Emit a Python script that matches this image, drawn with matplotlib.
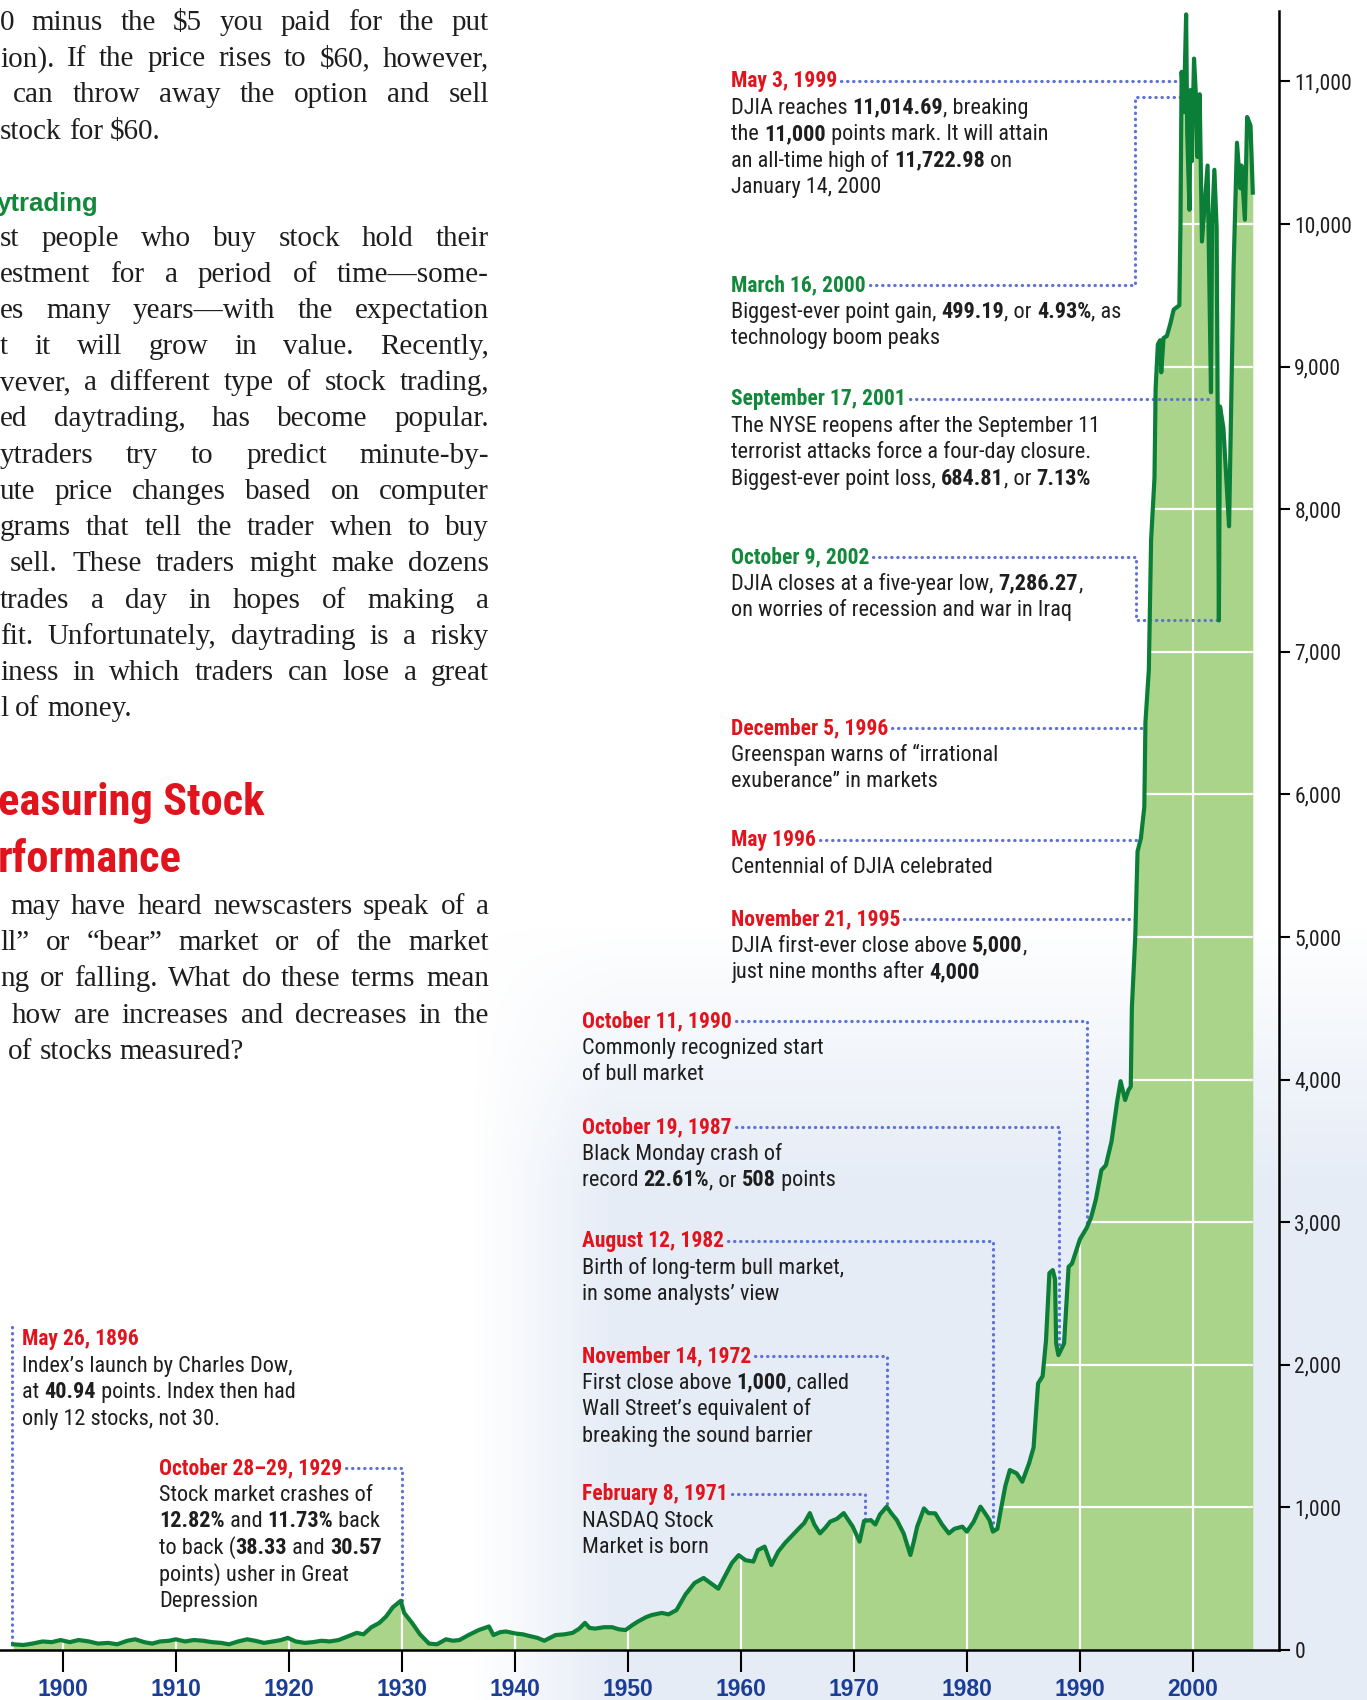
import numpy as np
import matplotlib
matplotlib.use("Agg")
import matplotlib.pyplot as plt
from matplotlib import font_manager
from matplotlib.lines import Line2D
from matplotlib.transforms import Affine2D

# ── Dow Jones Industrial Average as drawn on the page (decimal year, points) ──
years = [
    1895.6, 1896.5, 1897.3, 1898.2, 1899.0, 1899.8, 1900.6, 1901.4, 1902.3, 1903.1,
    1904.0, 1904.8, 1905.7, 1906.4, 1907.2, 1907.9, 1908.6, 1909.4, 1910.0, 1910.8,
    1911.6, 1912.4, 1913.2, 1914.0, 1914.7, 1915.5, 1916.3, 1917.0, 1917.8, 1918.6,
    1919.3, 1919.9, 1920.6, 1921.4, 1922.1, 1922.9, 1923.6, 1924.4, 1925.2, 1926.0,
    1926.6, 1927.3, 1928.0, 1928.6, 1929.2, 1929.9, 1930.2, 1930.9, 1931.6, 1932.4,
    1933.1, 1933.9, 1934.5, 1935.1, 1935.9, 1936.8, 1937.7, 1938.1, 1938.7, 1939.2,
    1940.1, 1940.7, 1941.2, 1942.0, 1942.6, 1943.1, 1943.6, 1944.4, 1945.1, 1945.7,
    1946.2, 1946.6, 1947.1, 1947.9, 1948.6, 1949.2, 1949.8, 1950.4, 1950.9, 1951.6,
    1952.1, 1953.0, 1953.6, 1954.3, 1955.1, 1955.9, 1956.7, 1957.4, 1958.0, 1958.6,
    1959.2, 1959.8, 1960.4, 1961.1, 1961.5, 1962.1, 1962.7, 1963.3, 1963.9, 1964.5,
    1965.1, 1965.6, 1966.1, 1966.5, 1967.0, 1967.5, 1967.9, 1968.5, 1969.1, 1969.6,
    1969.9, 1970.5, 1970.9, 1971.5, 1971.9, 1972.3, 1972.9, 1973.3, 1973.8, 1974.4,
    1975.0, 1975.3, 1975.6, 1976.2, 1976.6, 1977.2, 1977.8, 1978.4, 1978.9, 1979.6,
    1980.0, 1980.6, 1981.2, 1981.6, 1982.0, 1982.3, 1982.7, 1983.0, 1983.4, 1983.8,
    1984.4, 1984.9, 1985.5, 1985.9, 1986.3, 1986.7, 1987.0, 1987.3, 1987.6, 1987.8,
    1987.9, 1988.1, 1988.6, 1989.0, 1989.3, 1990.0, 1990.6, 1991.0, 1991.4, 1991.9,
    1992.3, 1992.8, 1993.3, 1993.6, 1994.0, 1994.3, 1994.5, 1994.6, 1994.9, 1995.1,
    1995.4, 1995.7, 1995.8, 1996.1, 1996.3, 1996.6, 1996.7, 1996.9, 1997.1, 1997.2,
    1997.4, 1997.7, 1998.0, 1998.3, 1998.8, 1998.9, 1999.0, 1999.2, 1999.4, 1999.5,
    1999.7, 1999.8, 1999.9, 2000.1, 2000.3, 2000.4, 2000.6, 2000.8, 2001.3, 2001.6,
    2001.7, 2001.9, 2002.1, 2002.3, 2002.4, 2002.7, 2003.2, 2003.6, 2003.9, 2004.2,
    2004.3, 2004.6, 2004.8, 2005.1, 2005.3,
]
djia = [
    40, 35, 45, 60, 55, 70, 55, 70, 60, 45,
    50, 40, 65, 75, 55, 45, 60, 65, 75, 60,
    70, 65, 55, 50, 40, 60, 75, 65, 50, 60,
    70, 85, 60, 50, 55, 65, 60, 70, 95, 120,
    110, 160, 190, 235, 300, 345, 260, 190, 110, 45,
    40, 75, 65, 70, 105, 140, 165, 105, 125, 130,
    115, 110, 100, 85, 65, 85, 105, 110, 120, 150,
    190, 155, 150, 160, 160, 145, 140, 175, 200, 230,
    245, 260, 250, 280, 390, 470, 505, 465, 430, 520,
    610, 665, 630, 620, 700, 725, 596, 690, 750, 800,
    850, 890, 960, 880, 818, 860, 900, 920, 960, 900,
    865, 760, 905, 911, 880, 950, 1005, 960, 911, 818,
    666, 760, 865, 993, 960, 958, 880, 818, 850, 865,
    830, 900, 1005, 960, 911, 830, 850, 982, 1150, 1262,
    1239, 1180, 1309, 1420, 1870, 1920, 2170, 2643, 2664, 2600,
    2150, 2068, 2150, 2687, 2710, 2880, 2960, 3036, 3155, 3365,
    3400, 3567, 3848, 3989, 3857, 3927, 3950, 4505, 5005, 5600,
    5693, 5913, 6507, 6873, 7782, 8219, 8846, 9157, 9185, 8960,
    9200, 9215, 9300, 9400, 9430, 10000, 11067, 10785, 11470, 10630,
    10100, 10940, 10440, 11160, 10850, 10470, 10910, 9877, 10410, 8820,
    10000, 10380, 9970, 7220, 8720, 8570, 7880, 9690, 10570, 10250,
    10410, 10030, 10750, 10690, 10220,
]

decades = list(range(1900, 2001, 10))
levels = list(range(0, 11001, 1000))

# ── annotated events ─────────────────────────────────────────────────────────
ev_dates = [
    "May 3, 1999", "March 16, 2000", "September 17, 2001", "October 9, 2002",
    "December 5, 1996", "May 1996", "November 21, 1995", "October 11, 1990",
    "October 19, 1987", "August 12, 1982", "November 14, 1972", "February 8, 1971",
    "October 28\u201329, 1929", "May 26, 1896",
]
ev_years = [1998.95, 1998.95, 2001.6, 2002.3, 1995.8, 1995.45, 1995.0, 1990.65,
            1988.15, 1982.3, 1972.95, 1971.0, 1930.0, 1895.5]
ev_values = [11015, 10890, 8810, 7224, 6485, 5680, 5130, 2960,
             2080, 830, 1005, 915, 340, 40]
ev_notes = [
    ["DJIA reaches **11,014.69**, breaking", "the **11,000** points mark. It will attain",
     "an all-time high of **11,722.98** on", "January 14, 2000"],
    ["Biggest-ever point gain, **499.19**, or **4.93%**, as", "technology boom peaks"],
    ["The NYSE reopens after the September 11", "terrorist attacks force a four-day closure.",
     "Biggest-ever point loss, **684.81**, or **7.13%**"],
    ["DJIA closes at a five-year low, **7,286.27**,", "on worries of recession and war in Iraq"],
    ["Greenspan warns of \u201cirrational", "exuberance\u201d in markets"],
    ["Centennial of DJIA celebrated"],
    ["DJIA first-ever close above **5,000**,", "just nine months after **4,000**"],
    ["Commonly recognized start", "of bull market"],
    ["Black Monday crash of", "record **22.61%**, or **508** points"],
    ["Birth of long-term bull market,", "in some analysts\u2019 view"],
    ["First close above **1,000**, called", "Wall Street\u2019s equivalent of",
     "breaking the sound barrier"],
    ["NASDAQ Stock", "Market is born"],
    ["Stock market crashes of", "**12.82%** and **11.73%** back",
     "to back (**38.33** and **30.57**", "points) usher in Great", "Depression"],
    ["Index\u2019s launch by Charles Dow,", "at **40.94** points. Index then had",
     "only 12 stocks, not 30."],
]
ev_red = [True, False, False, False, True, True, True, True,
          True, True, True, True, True, True]

# layout of the callouts (page pixels, top-left origin)
ev_xy = [(731, 81), (731, 285), (731, 399), (731, 557), (731, 728), (731, 840),
         (731, 919), (582, 1021), (582, 1127), (582, 1241), (582, 1356), (582, 1494),
         (159, 1468), (22, 1339)]
ev_kind = ["h", "hvh", "h", "hvh", "h", "h", "h", "hv", "hv", "hv", "hv", "hv", "hv", "v"]
ev_elbow = [None, 1135, None, 1136, None, None, None, None, None, None, None, None, None, None]

# ── page text column (cut at the left edge of the scan) ─────────────────────
para1 = ["0 minus the $5 you paid for the put", "ion). If the price rises to $60, however,",
         "can throw away the option and sell", "stock for $60."]
para1_x = [0, 0, 13, 0]
para2 = ["st people who buy stock hold their", "estment for a period of time\u2014some-",
         "es many years\u2014with the expectation", "t it will grow in value. Recently,",
         "vever, a different type of stock trading,", "ed daytrading, has become popular.",
         "ytraders try to predict minute-by-", "ute price changes based on computer",
         "grams that tell the trader when to buy", "sell. These traders might make dozens",
         "trades a day in hopes of making a", "fit. Unfortunately, daytrading is a risky",
         "iness in which traders can lose a great", "l of money."]
para2_x = [0, 0, 0, 0, 0, 0, 0, 0, 0, 10, 0, 0, 0, 0]
para3 = ["may have heard newscasters speak of a", "ll\u201d or \u201cbear\u201d market or of the market",
         "ng or falling. What do these terms mean", "how are increases and decreases in the",
         "of stocks measured?"]
para3_x = [10, 0, 0, 12, 8]

# ── colours / fonts ──────────────────────────────────────────────────────────
RED = "#e1141e"
GREEN_TXT = "#12883a"
DOT = "#5d72d9"
FILL = "#a9d489"
LINE = "#0b7f37"
NAVY = "#1c3d95"
INK = "#1e1e1e"

_have = {f.name for f in font_manager.fontManager.ttflist}


def pick(*names):
    for n in names:
        if n in _have:
            return n
    return "DejaVu Sans"


NARROW = pick("Liberation Sans Narrow", "Roboto Condensed", "Open Sans Condensed",
              "Liberation Sans")
NARROW_F = [NARROW, "DejaVu Sans"]
SANS_F = [pick("Liberation Sans", "Roboto"), "DejaVu Sans"]
SERIF_F = [pick("Liberation Serif", "DejaVu Serif"), "DejaVu Serif"]
shrink = 1.0 if NARROW != "Liberation Sans" else 0.86
ANN = 16.0 * shrink
ANN_HEAD = 15.5 * shrink
SERIF_SIZE = 21

W, H = 1367, 1700
Y0, Y_TOP, X_R = 1650, 11, 1279          # baseline, top of axis, right spine (px)
PX_YEAR, X1900 = 11.3, 62.9
PX_PT = 0.1426                           # pixels per index point

fig = plt.figure(figsize=(W / 100, H / 100), dpi=100, facecolor="white")
renderer = fig.canvas.get_renderer()
PIX = Affine2D().scale(1, -1).translate(0, H)

# pale blue wash of the printed page behind the lower chart
bg = fig.add_axes([0, 0, 1, 1], zorder=-5)
bg.set_axis_off()
gy, gx = np.mgrid[0:H:10, 0:W:10]
rgba = np.zeros(gy.shape + (4,))
rgba[..., 0], rgba[..., 1], rgba[..., 2] = 0.82, 0.87, 0.94
rgba[..., 3] = 0.55 * np.clip((gy - 920) / 260, 0, 1) * np.clip((gx - 470) / 140, 0, 1)
bg.imshow(rgba, extent=[0, W, H, 0], interpolation="bilinear", aspect="auto")
bg.set_xlim(0, W)
bg.set_ylim(H, 0)

# ── chart ────────────────────────────────────────────────────────────────────
ax = fig.add_axes([0, (H - Y0) / H, X_R / W, (Y0 - Y_TOP) / H])
ax.set_facecolor("none")
ax.set_xlim(1900 - X1900 / PX_YEAR, 1900 + (X_R - X1900) / PX_YEAR)
ax.set_ylim(0, (Y0 - Y_TOP) / PX_PT)

fill = ax.fill_between(years, djia, 0, color=FILL, lw=0, zorder=1)
clip = fill.get_paths()[0]
for d in decades:
    g = ax.axvline(d, color="white", lw=1.6, zorder=2)
    g.set_clip_path(clip, ax.transData)
for lv in levels[1:]:
    g = ax.axhline(lv, color="white", lw=1.6, zorder=2)
    g.set_clip_path(clip, ax.transData)
ax.plot(years, djia, color=LINE, lw=3.0, zorder=3, solid_joinstyle="round")

for s in ("left", "top"):
    ax.spines[s].set_visible(False)
for s in ("right", "bottom"):
    ax.spines[s].set_linewidth(1.8)
    ax.spines[s].set_color("black")

ax.set_xticks(decades)
ax.set_xticklabels([str(d) for d in decades], fontsize=16.5, fontweight="bold",
                   color=NAVY, family=SANS_F)
ax.tick_params(axis="x", direction="out", length=15.5, width=1.5, pad=5)
ax.yaxis.tick_right()
ax.set_yticks(levels)
ax.set_yticklabels([f"{v:,}" for v in levels], fontsize=15.5 * shrink, family=NARROW_F,
                   color=INK)
ax.tick_params(axis="y", direction="out", length=8, width=1.5, pad=3)

# ── text helpers ─────────────────────────────────────────────────────────────
_bar = {}


def width_of(s, **kw):
    key = repr(sorted(kw.items()))
    if key not in _bar:
        t = fig.text(0, 0, "||", **kw)
        _bar[key] = t.get_window_extent(renderer).width
        t.remove()
    t = fig.text(0, 0, "|" + s + "|", **kw)
    w = t.get_window_extent(renderer).width - _bar[key]
    t.remove()
    return w


def rich_line(x, y, s, size, color=INK):
    for i, part in enumerate(s.split("**")):
        if not part:
            continue
        kw = dict(fontsize=size, family=NARROW_F, fontweight="bold" if i % 2 else "normal")
        fig.text(x, y, part, transform=PIX, color=color, va="baseline", **kw)
        x += width_of(part, **kw)


def justified(x0, x1, y, s, last=False):
    kw = dict(fontsize=SERIF_SIZE, family=SERIF_F)
    words = s.split()
    ws = [width_of(w, **kw) for w in words]
    space = width_of(" ", **kw)
    gap = space
    if not last and len(words) > 1:
        gap = max((x1 - x0 - sum(ws)) / (len(words) - 1), 0.6 * space)
    x = x0
    for w, wd in zip(words, ws):
        fig.text(x, y, w, transform=PIX, va="baseline", color=INK, **kw)
        x += wd + gap


# ── left text column ─────────────────────────────────────────────────────────
LEAD, RIGHT = 36.2, 489
for i, (s, x) in enumerate(zip(para1, para1_x)):
    justified(x, RIGHT, 30 + i * LEAD, s, last=(i == len(para1) - 1))
fig.text(-3, 211, "ytrading", transform=PIX, va="baseline", fontsize=18.5,
         fontweight="bold", color=GREEN_TXT, family=SANS_F)
for i, (s, x) in enumerate(zip(para2, para2_x)):
    justified(x, RIGHT, 245.5 + i * LEAD, s, last=(i == len(para2) - 1))
fig.text(-2, 815, "easuring Stock", transform=PIX, va="baseline", fontsize=32 * shrink,
         fontweight="bold", color=RED, family=NARROW_F)
fig.text(-2, 872, "rformance", transform=PIX, va="baseline", fontsize=32 * shrink,
         fontweight="bold", color=RED, family=NARROW_F)
for i, (s, x) in enumerate(zip(para3, para3_x)):
    justified(x, RIGHT, 914 + i * LEAD, s, last=(i == len(para3) - 1))

# ── callouts ─────────────────────────────────────────────────────────────────
for date, red, (hx, hy), notes, kind, elbow, yr, val in zip(
        ev_dates, ev_red, ev_xy, ev_notes, ev_kind, ev_elbow, ev_years, ev_values):
    head = fig.text(hx, hy + 6, date, transform=PIX, va="baseline", fontsize=ANN_HEAD,
                    fontweight="bold", color=RED if red else GREEN_TXT, family=NARROW_F)
    for k, line in enumerate(notes):
        rich_line(hx, hy + 6 + 26.6 * (k + 1), line, ANN)

    x0 = head.get_window_extent(renderer).x1 + 4
    dx, dy = ax.transData.transform((yr, val))
    ex, ey = dx, H - dy
    if kind == "h":
        pts = [(x0, hy), (ex, hy)]
    elif kind == "hv":
        pts = [(x0, hy), (ex, hy), (ex, ey)]
    elif kind == "hvh":
        pts = [(x0, hy), (elbow, hy), (elbow, ey), (ex, ey)]
    else:
        pts = [(ex, hy - 12), (ex, ey)]
    xs, ys = zip(*pts)
    ax.add_line(Line2D(xs, ys, transform=PIX, color=DOT, lw=2.3,
                       linestyle=(0, (0.1, 1.8)), dash_capstyle="round",
                       clip_on=False, zorder=2.5))

fig.savefig("out.png", dpi=100, facecolor="white")
